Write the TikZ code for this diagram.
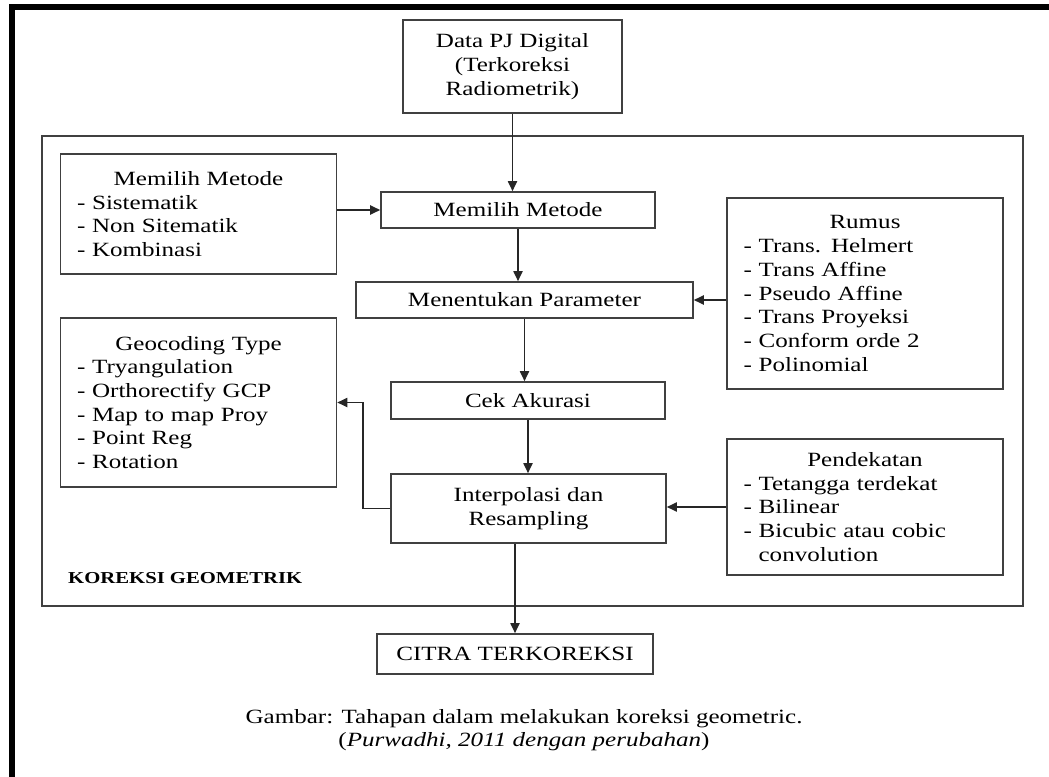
\documentclass[tikz,border=0pt]{standalone}
\usepackage{fontspec}
\setmainfont[FakeStretch=1.24]{Liberation Serif}
\usetikzlibrary{arrows.meta}

\tikzset{
  kotak/.style={draw=black!75, line width=0.9pt, align=center, inner sep=2pt,
    font=\fontsize{11.5}{13.5}\selectfont},
  daftar/.style={kotak, align=left, inner xsep=0.33cm, text width=4.86cm},
  panah/.style={draw=black!85, line width=1pt, -{Triangle[length=2mm,width=1.8mm]}},
}

\begin{document}
\begin{tikzpicture}[x=0.02cm,y=-0.02cm]
\useasboundingbox (0,0) rectangle (1049,777);
% bingkai halaman
\draw[line width=3.4pt] (12,777) -- (12,7) -- (1049,7);
% kotak besar koreksi geometrik
\node[draw=black!75, line width=0.9pt, minimum width=19.62cm, minimum height=9.4cm] (koreksi) at (532.5,371) {};
\node[anchor=west, font=\fontsize{9.5}{11}\selectfont\bfseries] (judul) at (62,578) {KOREKSI GEOMETRIK};
% alur utama
\node[kotak, minimum width=4.38cm, minimum height=1.86cm] (data) at (512.5,66.5) {Data PJ Digital\\(Terkoreksi\\Radiometrik)};
\node[kotak, minimum width=5.48cm, minimum height=0.72cm] (metode) at (518,210) {Memilih Metode};
\node[kotak, minimum width=6.74cm, minimum height=0.72cm] (param) at (524.5,300) {Menentukan Parameter};
\node[kotak, minimum width=5.48cm, minimum height=0.74cm] (cek) at (528,400.5) {Cek Akurasi};
\node[kotak, minimum width=5.5cm, minimum height=1.38cm] (interp) at (528.5,508.5) {Interpolasi dan\\Resampling};
\node[kotak, minimum width=5.52cm, minimum height=0.8cm] (citra) at (515,654) {CITRA TERKOREKSI};
% kotak keterangan kiri
\node[daftar, minimum height=2.4cm] (pilih) at (198.5,214) {\hbox to\hsize{\hfil Memilih Metode\hfil}\\- Sistematik\\- Non Sitematik\\- Kombinasi};
\node[daftar, minimum height=3.38cm] (geo) at (198.5,402.5) {\hbox to\hsize{\hfil Geocoding Type\hfil}\\- Tryangulation\\- Orthorectify GCP\\- Map to map Proy\\- Point Reg\\- Rotation\\[13.5pt]};
% kotak keterangan kanan
\node[daftar, minimum height=3.82cm] (rumus) at (865,293.5) {\hbox to\hsize{\hfil Rumus\hfil}\\- Trans. Helmert\\- Trans Affine\\- Pseudo Affine\\- Trans Proyeksi\\- Conform orde 2\\- Polinomial};
\node[daftar, minimum height=2.72cm] (pend) at (865,507) {\hbox to\hsize{\hfil Pendekatan\hfil}\\- Tetangga terdekat\\- Bilinear\\- Bicubic atau cobic\\\phantom{- }convolution};
% panah
\draw[panah] (data.south) -- (data.south |- metode.north);
\draw[panah] (metode.west -| pilih.east) -- (metode.west);
\draw[panah] (metode.south) -- (metode.south |- param.north);
\draw[panah] (param.east -| rumus.west) -- (param.east);
\draw[panah] (param.south) -- (param.south |- cek.north);
\draw[panah] (cek.south) -- (cek.south |- interp.north);
\draw[panah] (interp.west) -- ++(-27,0) |- (geo.east);
\draw[panah] (pend.west) -- (pend.west -| interp.east);
\draw[panah] (interp.south -| citra.north) -- (citra.north);
% keterangan gambar
\node[font=\fontsize{11.5}{13.5}\selectfont, align=center] (ket) at (524,730) {Gambar: Tahapan dalam melakukan koreksi geometric.\\(\textit{Purwadhi, 2011 dengan perubahan})};
\end{tikzpicture}
\end{document}
